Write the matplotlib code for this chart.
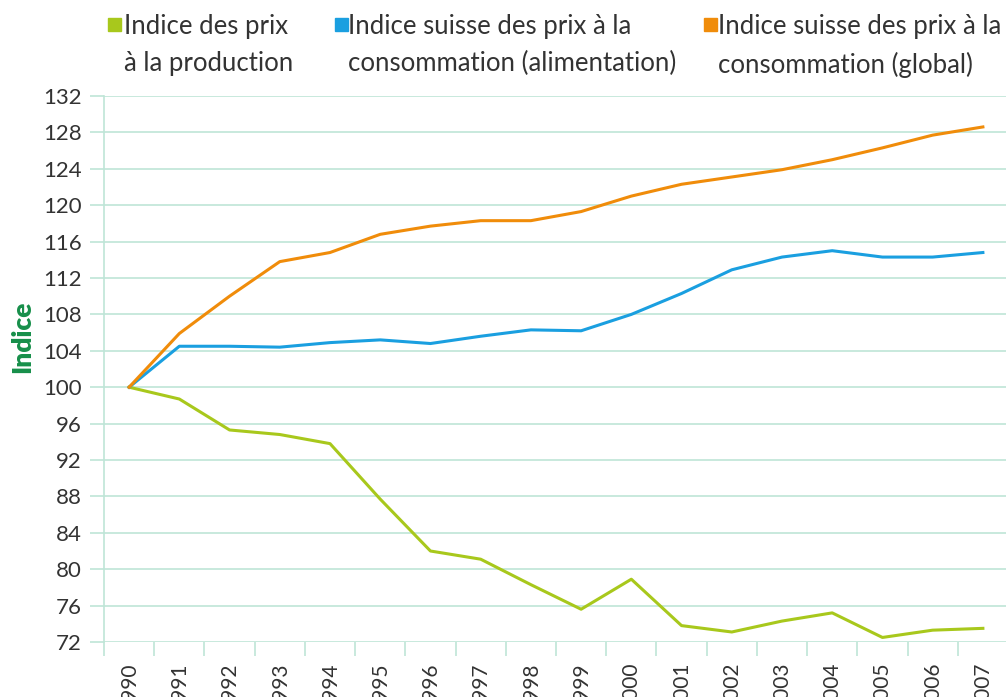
import matplotlib.pyplot as plt
from matplotlib.patches import Rectangle

years = [str(y) for y in range(1990, 2008)]

prod = [100, 98.7, 95.3, 94.8, 93.8, 87.7, 82.0, 81.1, 78.3, 75.6,
        78.9, 73.8, 73.1, 74.3, 75.2, 72.5, 73.3, 73.5]
alim = [100, 104.5, 104.5, 104.4, 104.9, 105.2, 104.8, 105.6, 106.3, 106.2,
        108.0, 110.3, 112.9, 114.3, 115.0, 114.3, 114.3, 114.8]
glob = [100, 105.9, 110.0, 113.8, 114.8, 116.8, 117.7, 118.3, 118.3, 119.3,
        121.0, 122.3, 123.1, 123.9, 125.0, 126.3, 127.7, 128.6]

labels = ['Indice des prix\nà la production',
          'Indice suisse des prix à la\nconsommation (alimentation)',
          'Indice suisse des prix à la\nconsommation (global)']
colors = ['#a8c81c', '#1a9fe0', '#f08c0a']
yticks = list(range(72, 133, 4))

grid_c = '#bfe5d7'
plt.rcParams['font.family'] = ['Lato', 'DejaVu Sans']

W, H = 1006, 697
fig = plt.figure(figsize=(W / 100, H / 100), dpi=100)
ax = fig.add_axes([104 / W, 1 - 642 / H, (1008 - 104) / W, (642 - 96) / H])

x = list(range(len(years)))
for vals, c in zip([prod, alim, glob], colors):
    ax.plot(x, vals, color=c, lw=2.2, solid_joinstyle='round')

ax.set_xlim(-0.5, len(years) - 0.5)
ax.set_ylim(72, 132)
ax.set_yticks(yticks)
ax.set_yticklabels([str(v) for v in yticks], fontsize=16, color='#333333')
ax.set_xticks(x)
ax.set_xticklabels(years, rotation=90, fontsize=15, color='#333333', va='top')
ax.set_xticks([i - 0.5 for i in range(len(years) + 1)], minor=True)
ax.tick_params(axis='x', which='major', length=0, pad=15)
ax.tick_params(axis='x', which='minor', length=10, width=1.2, color=grid_c)
ax.tick_params(axis='y', length=10, width=1.2, color=grid_c, pad=6)
ax.grid(axis='y', color=grid_c, lw=1.2)
for s in ['top', 'right', 'bottom']:
    ax.spines[s].set_visible(False)
ax.spines['left'].set_color(grid_c)
ax.spines['left'].set_linewidth(1.2)

fig.text(22 / W, 1 - 337 / H, 'Indice', rotation=90, ha='center', va='center',
         fontsize=19, fontweight='heavy', color='#178f4a')

# legend
for lx, tx, lab, c in zip([108, 335, 704], [124, 348, 718], labels, colors):
    fig.add_artist(Rectangle((lx / W, 1 - 31 / H), 13 / W, 13 / H,
                             transform=fig.transFigure, color=c))
    fig.text(tx / W, 1 - 14 / H, lab, ha='left', va='top', fontsize=18.5,
             color='#333333', linespacing=1.6)

fig.savefig('out.png', dpi=100)
